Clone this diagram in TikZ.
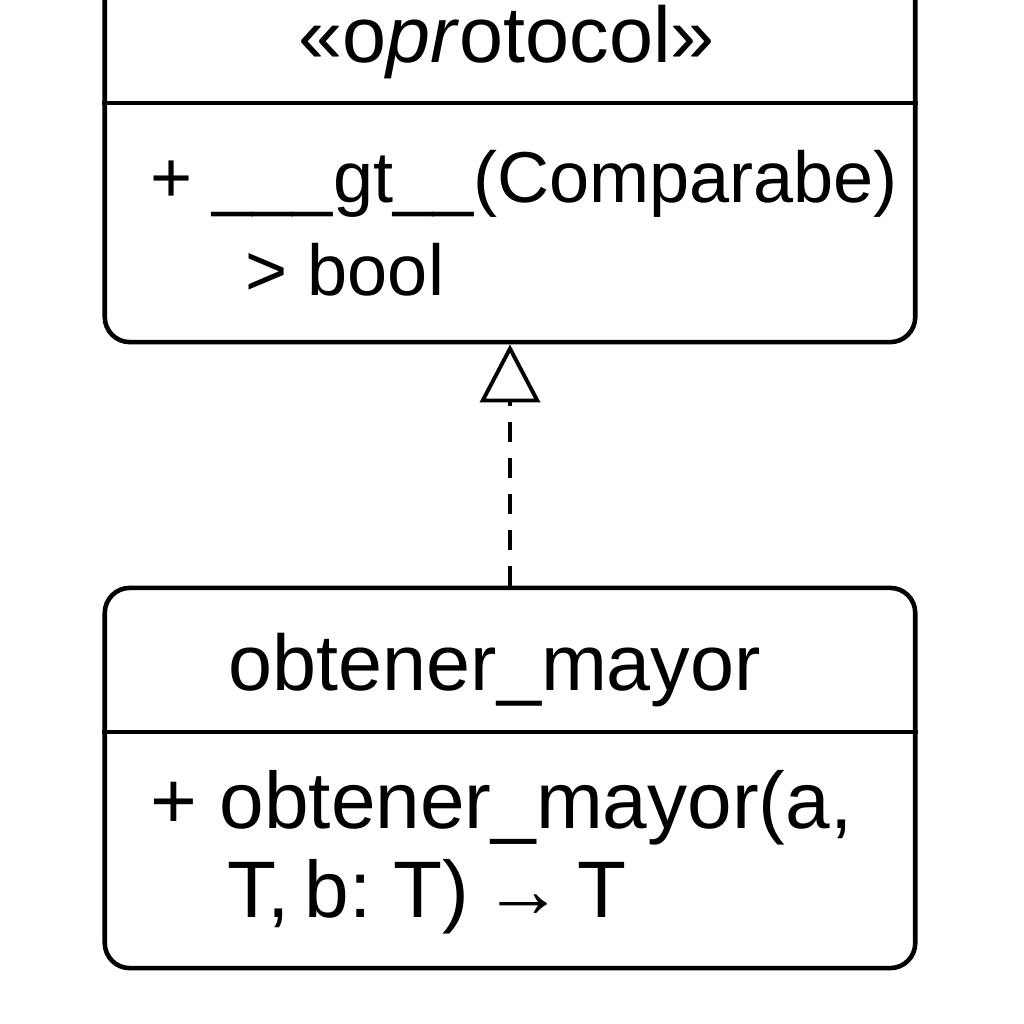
\documentclass[tikz,border=0pt]{standalone}
\usepackage{fontspec}
\setmainfont{Liberation Sans}
\usetikzlibrary{arrows.meta,positioning}

\begin{document}
\begin{tikzpicture}
	[x=0.01cm, y=-0.01cm, inner sep=0pt,
	classbox/.style	= {rectangle, draw, rounded corners=0.25cm, line width=1.3pt, minimum width=8.1cm},
	header/.style	= {anchor=base west, font=\fontsize{22.5pt}{26pt}\selectfont},
	member/.style	= {anchor=base west, font=\fontsize{20.5pt}{24pt}\selectfont},
	opmember/.style	= {anchor=base west, font=\fontsize{22.8pt}{26pt}\selectfont},
	tight/.style	= {execute at begin node={\spaceskip=0.18em\relax}},
	divider/.style	= {line width=1.3pt},
	realize/.style	= {-{Triangle[open, length=0.58cm, width=0.6cm]}, line width=1.1pt, dash pattern=on 0.2cm off 0.16cm}]

	\useasboundingbox (0,0) rectangle (1024,1024);

	% protocol class
	\node at (510, 151)	[classbox, minimum height=3.82cm]	(proto)	{};
	\node at (298, 62)	[header]	(protoname)	{«o\textit{pr}otocol»};
	\coordinate (psep) at (0, 103);
	\draw [divider] (proto.west |- psep) -- (proto.east |- psep);
	\node at (150, 202)	[member]	(gt)	{+ \_\_\_gt\_\_(Comparabe)};
	\node at (245, 295)	[member]	(gtret)	{> bool};

	% function class
	\node at (510, 778)	[classbox, minimum height=3.8cm]	(func)	{};
	\node at (228, 690)	[header]	(funcname)	{obtener\_mayor};
	\coordinate (fsep) at (0, 732);
	\draw [divider] (func.west |- fsep) -- (func.east |- fsep);
	\node at (150, 828)	[opmember]	(op1)	{+ obtener\_mayor(a,};
	\node at (227, 917)	[opmember, tight]	(op2)	{T, b: T) → T};

	\draw [realize] (func.north) -- (proto.south);
\end{tikzpicture}
\end{document}
